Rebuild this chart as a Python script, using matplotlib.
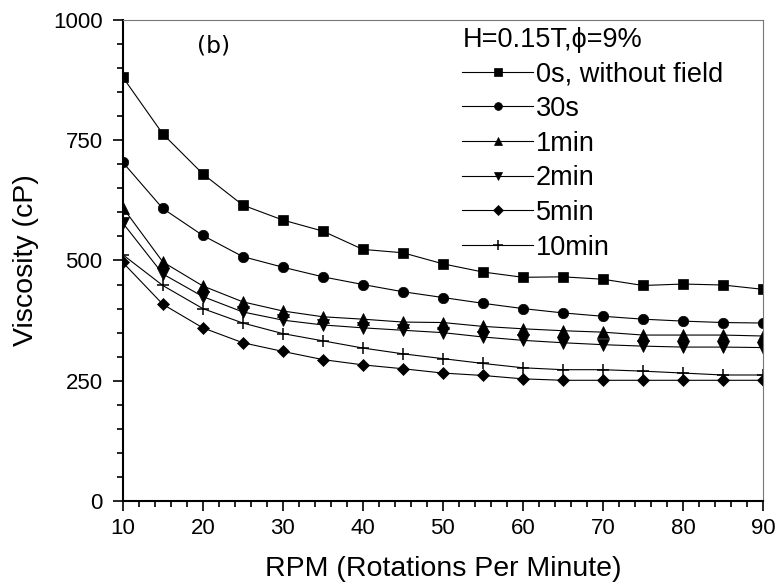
import numpy as np
import matplotlib
matplotlib.use("Agg")
import matplotlib.pyplot as plt

plt.rcParams['font.family'] = ['Liberation Sans', 'DejaVu Sans']

rpm = [10, 15, 20, 25, 30, 35, 40, 45, 50, 55, 60, 65, 70, 75, 80, 85, 90]

v_0s = [881, 763, 680, 615, 584, 561, 523, 516, 493, 476, 465, 466, 461, 448, 451, 449, 440]
v_30s = [704, 608, 552, 508, 486, 466, 450, 435, 423, 411, 400, 391, 384, 378, 374, 371, 370]
v_1min = [610, 497, 447, 414, 395, 383, 378, 372, 371, 363, 358, 354, 351, 345, 345, 345, 343]
v_2min = [578, 472, 425, 393, 376, 366, 360, 355, 350, 341, 334, 329, 325, 322, 320, 320, 319]
v_5min = [496, 409, 360, 329, 311, 294, 283, 275, 266, 261, 254, 251, 251, 251, 251, 251, 251]
v_10min = [512, 448, 400, 370, 348, 333, 318, 306, 296, 286, 277, 273, 273, 270, 266, 262, 262]

series = [
    (v_0s, 's', 7, '0s, without field'),
    (v_30s, 'o', 7.5, '30s'),
    (v_1min, '^', 8, '1min'),
    (v_2min, 'v', 8, '2min'),
    (v_5min, 'D', 6.5, '5min'),
    (v_10min, '+', 9, '10min'),
]

fig = plt.figure(figsize=(7.77, 5.84), dpi=100)
ax = fig.add_axes([0.158, 0.142, 0.824, 0.824])

for vals, mk, ms, lab in series:
    ax.plot(rpm, vals, color='black', lw=0.8, marker=mk, markersize=ms,
            markeredgewidth=1.1 if mk == '+' else 0.5,
            markerfacecolor='black', markeredgecolor='black', label=lab)

ax.set_xlim(10, 90)
ax.set_ylim(0, 1000)
ax.set_xticks(np.arange(10, 91, 10))
ax.set_xticks(np.arange(10, 91, 2), minor=True)
ax.set_yticks([0, 250, 500, 750, 1000])
ax.set_yticks(np.arange(0, 1001, 50), minor=True)

ax.tick_params(which='major', direction='out', length=7.5, width=1.2, labelsize=16)
ax.tick_params(which='minor', direction='out', length=4.5, width=1.2)
ax.tick_params(axis='y', which='major', pad=7)
ax.tick_params(axis='x', which='major', pad=5)
ax.tick_params(top=False, right=False)

for side in ['left', 'bottom']:
    ax.spines[side].set_linewidth(1.5)
    ax.spines[side].set_color('black')
for side in ['top', 'right']:
    ax.spines[side].set_linewidth(0.8)
    ax.spines[side].set_color('#777777')

ax.set_xlabel('RPM (Rotations Per Minute)', fontsize=20.5, labelpad=12)
ax.set_ylabel('Viscosity (cP)', fontsize=20.5, labelpad=10)

ax.text(19.25, 946, '(b)', fontsize=16.8, ha='left', va='center',
        family='DejaVu Sans')

leg = ax.legend(loc='upper left', bbox_to_anchor=(0.52, 1.0), frameon=False,
                fontsize=19.5, title='H=0.15T,\u03d5=9%', title_fontsize=19.5,
                handlelength=2.6, handletextpad=0.1, labelspacing=0.32,
                borderaxespad=0.0, borderpad=0.25, alignment='left',
                markerscale=0.75)

fig.savefig('out.png', dpi=100)
